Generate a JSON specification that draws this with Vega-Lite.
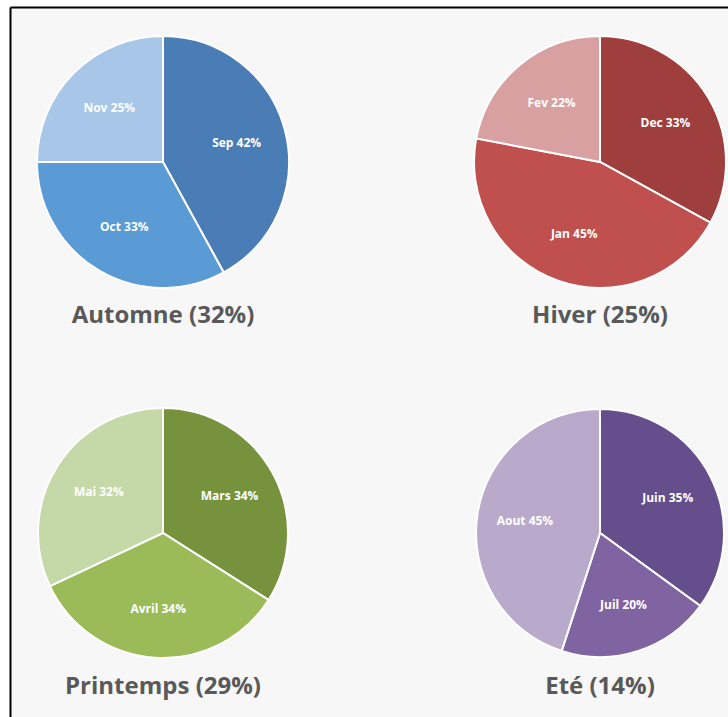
{
  "$schema": "https://vega.github.io/schema/vega-lite/v6.json",
  "width": 718,
  "height": 710,
  "autosize": {"type": "none"},
  "padding": {"left": 10, "top": 7, "right": 0, "bottom": 0},
  "background": "#ffffff",
  "config": {"view": {"stroke": null, "fill": "#f7f7f7"}},
  "data": {"values": [
    {"season": "Automne", "month": "Sep", "value": 42, "order": 1, "col": "L", "row": "T", "label": "Sep 42%"},
    {"season": "Automne", "month": "Oct", "value": 33, "order": 2, "col": "L", "row": "T", "label": "Oct 33%"},
    {"season": "Automne", "month": "Nov", "value": 25, "order": 3, "col": "L", "row": "T", "label": "Nov 25%"},
    {"season": "Hiver", "month": "Dec", "value": 33, "order": 1, "col": "R", "row": "T", "label": "Dec 33%"},
    {"season": "Hiver", "month": "Jan", "value": 45, "order": 2, "col": "R", "row": "T", "label": "Jan 45%"},
    {"season": "Hiver", "month": "Fev", "value": 22, "order": 3, "col": "R", "row": "T", "label": "Fev 22%"},
    {"season": "Printemps", "month": "Mars", "value": 34, "order": 1, "col": "L", "row": "B", "label": "Mars 34%"},
    {"season": "Printemps", "month": "Avril", "value": 34, "order": 2, "col": "L", "row": "B", "label": "Avril 34%"},
    {"season": "Printemps", "month": "Mai", "value": 32, "order": 3, "col": "L", "row": "B", "label": "Mai 32%"},
    {"season": "Ete", "month": "Juin", "value": 35, "order": 1, "col": "R", "row": "B", "label": "Juin 35%"},
    {"season": "Ete", "month": "Juil", "value": 20, "order": 2, "col": "R", "row": "B", "label": "Juil 20%"},
    {"season": "Ete", "month": "Aout", "value": 45, "order": 3, "col": "R", "row": "B", "label": "Aout 45%"}
  ]},
  "datasets": {
    "titles": [
      {"title": "Automne (32%)", "col": "L", "row": "T"},
      {"title": "Hiver (25%)", "col": "R", "row": "T"},
      {"title": "Printemps (29%)", "col": "L", "row": "B"},
      {"title": "Eté (14%)", "col": "R", "row": "B"}
    ]
  },
  "encoding": {
    "x": {"field": "col", "type": "nominal", "scale": {"type": "point", "domain": ["L", "R"], "padding": 0.3215, "align": 0.5445},
      "axis": {"orient": "top", "labels": false, "ticks": false, "title": null, "grid": false, "domainColor": "#000000", "domainWidth": 2}},
    "y": {"field": "row", "type": "nominal", "scale": {"type": "point", "domain": ["T", "B"], "padding": 0.4569, "align": 0.4572},
      "axis": {"orient": "left", "labels": false, "ticks": false, "title": null, "grid": false, "domainColor": "#000000", "domainWidth": 2}}
  },
  "layer": [
    {
      "transform": [{"filter": "datum.season === 'Automne'"}],
      "encoding": {
        "theta": {"field": "value", "type": "quantitative", "stack": true},
        "order": {"field": "order", "type": "quantitative"},
        "color": {"field": "month", "type": "nominal", "legend": null,
          "scale": {"domain": ["Sep","Oct","Nov","Dec","Jan","Fev","Mars","Avril","Mai","Juin","Juil","Aout"],
                    "range": ["#4a7db5","#5b9bd5","#a8c6e8","#9f3f3d","#c0504d","#d8a0a0","#76923c","#9bbb59","#c5d8a8","#654e8c","#8064a2","#b9aacc"]}}
      },
      "layer": [
        {"mark": {"type": "arc", "outerRadius": 126, "stroke": "#ffffff", "strokeWidth": 2}},
        {"mark": {"type": "text", "radius": 76, "color": "#ffffff", "font": "Open Sans", "fontWeight": "bold", "fontSize": 12}, "encoding": {"text": {"field": "label"}, "color": {"value": "#ffffff"}}}
      ]
    },
    {
      "transform": [{"filter": "datum.season === 'Hiver'"}],
      "encoding": {
        "theta": {"field": "value", "type": "quantitative", "stack": true},
        "order": {"field": "order", "type": "quantitative"},
        "color": {"field": "month", "type": "nominal", "legend": null}
      },
      "layer": [
        {"mark": {"type": "arc", "outerRadius": 126, "stroke": "#ffffff", "strokeWidth": 2}},
        {"mark": {"type": "text", "radius": 76, "font": "Open Sans", "fontWeight": "bold", "fontSize": 12}, "encoding": {"text": {"field": "label"}, "color": {"value": "#ffffff"}}}
      ]
    },
    {
      "transform": [{"filter": "datum.season === 'Printemps'"}],
      "encoding": {
        "theta": {"field": "value", "type": "quantitative", "stack": true},
        "order": {"field": "order", "type": "quantitative"},
        "color": {"field": "month", "type": "nominal", "legend": null}
      },
      "layer": [
        {"mark": {"type": "arc", "outerRadius": 125, "stroke": "#ffffff", "strokeWidth": 2}},
        {"mark": {"type": "text", "radius": 76, "font": "Open Sans", "fontWeight": "bold", "fontSize": 12}, "encoding": {"text": {"field": "label"}, "color": {"value": "#ffffff"}}}
      ]
    },
    {
      "transform": [{"filter": "datum.season === 'Ete'"}],
      "encoding": {
        "theta": {"field": "value", "type": "quantitative", "stack": true},
        "order": {"field": "order", "type": "quantitative"},
        "color": {"field": "month", "type": "nominal", "legend": null}
      },
      "layer": [
        {"mark": {"type": "arc", "outerRadius": 124, "stroke": "#ffffff", "strokeWidth": 2}},
        {"mark": {"type": "text", "radius": 76, "font": "Open Sans", "fontWeight": "bold", "fontSize": 12}, "encoding": {"text": {"field": "label"}, "color": {"value": "#ffffff"}}}
      ]
    },
    {
      "data": {"name": "titles"},
      "mark": {"type": "text", "dy": 154, "font": "Open Sans", "fontWeight": "bold", "fontSize": 24, "color": "#595959"},
      "encoding": {"text": {"field": "title"}}
    }
  ]
}
